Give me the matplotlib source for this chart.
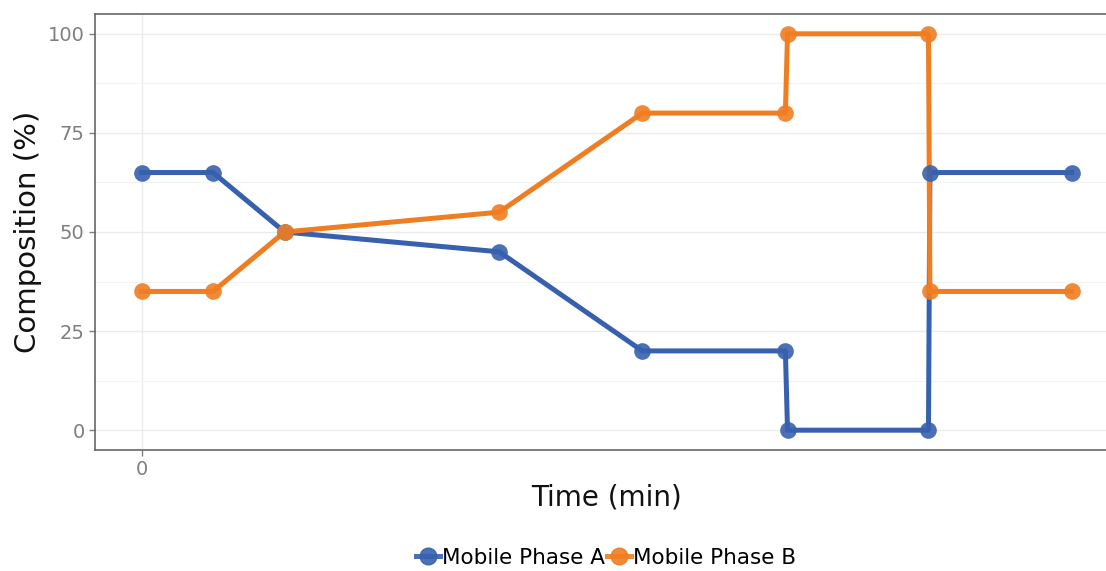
import matplotlib.pyplot as plt
from matplotlib.lines import Line2D

# gradient program
time_min = [0, 1, 2, 5, 7, 9, 9.03, 11, 11.02, 13]
phase_a = [65, 65, 50, 45, 20, 20, 0, 0, 65, 65]
phase_b = [35, 35, 50, 55, 80, 80, 100, 100, 35, 35]
series_names = ["Mobile Phase A", "Mobile Phase B"]
y_ticks = [0, 25, 50, 75, 100]
x_ticks = [0]

col_a = "#3761AE"
col_b = "#F07D22"
grey = "#7F7F7F"

plt.rcParams["font.family"] = ["DejaVu Sans"]

fig = plt.figure(figsize=(11.06, 5.71), dpi=100)
ax = fig.add_axes([0.0859, 0.2119, 0.925, 0.7636])

for y, c in [(phase_a, col_a), (phase_b, col_b)]:
    ax.plot(time_min, y, color=c, lw=3.6, zorder=3)
    ax.plot(time_min, y, "o", color=c, ms=12, alpha=0.9, mec="none", zorder=4)

ax.set_xlim(-0.65, 13.65)
ax.set_ylim(-5, 105)
ax.set_xticks(x_ticks)
ax.set_yticks(y_ticks)
ax.set_yticks([12.5, 37.5, 62.5, 87.5], minor=True)
ax.grid(True, which="major", color="#EBEBEB", lw=1.0, zorder=0)
ax.grid(True, which="minor", axis="y", color="#F2F2F2", lw=0.8, zorder=0)
ax.tick_params(which="minor", length=0)
ax.tick_params(which="major", colors=grey, labelsize=14, length=4, width=1)
for s in ax.spines.values():
    s.set_color("#666666")
    s.set_linewidth(1.2)

ax.set_xlabel("Time (min)", fontsize=20, color="#111111", labelpad=3)
ax.set_ylabel("Composition (%)", fontsize=21, color="#111111", labelpad=4)

# legend centred under the panel, not the figure
handles = [Line2D([], [], color=c, lw=3.6, marker="o", ms=12, alpha=0.9)
           for c in (col_a, col_b)]
fig.legend(handles, series_names, loc="center", bbox_to_anchor=(0.548, 0.023),
           ncol=2, frameon=False, fontsize=15.5, handlelength=1.1,
           handletextpad=0.1, columnspacing=0.1)

fig.savefig("out.png", dpi=100)
